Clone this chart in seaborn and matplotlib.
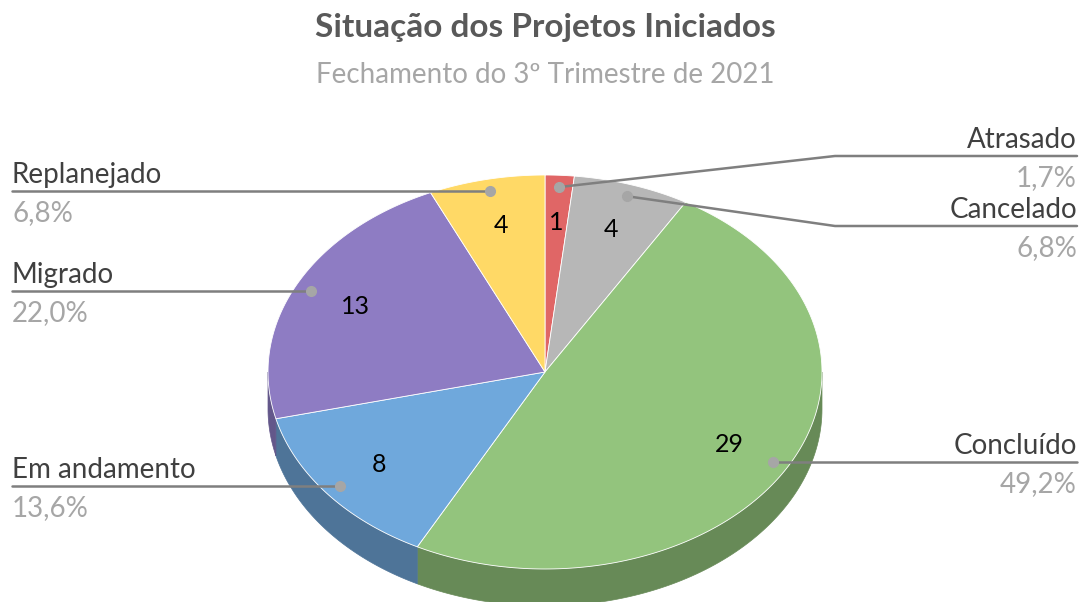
import numpy as np
import matplotlib
matplotlib.use("Agg")
import matplotlib.pyplot as plt
from matplotlib.patches import Polygon
import seaborn as sns

# Situação dos projetos iniciados - fechamento do 3º trimestre de 2021
categorias = ["Atrasado", "Cancelado", "Concluído", "Em andamento", "Migrado", "Replanejado"]
quantidades = [1, 4, 29, 8, 13, 4]
cores = ["#e06666", "#b7b7b7", "#93c47d", "#6fa8dc", "#8e7cc3", "#ffd966"]
cores_lado = ["#9e4848", "#808080", "#678a57", "#4e7498", "#63578a", "#b39848"]

titulo = "Situação dos Projetos Iniciados"
subtitulo = "Fechamento do 3º Trimestre de 2021"

sns.set_theme(style="white")
plt.rcParams["font.family"] = ["Lato", "DejaVu Sans"]

fig = plt.figure(figsize=(10.82, 6.02), dpi=100)
ax = fig.add_axes([0, 0, 1, 1])
ax.set_xlim(0, 1082)
ax.set_ylim(602, 0)
ax.axis("off")

# geometria do "pie 3D" (elipse + parede lateral)
cx, cy = 545, 372
rx, ry = 277, 197
depth = 37


def ponto(t, r=1.0):
    return cx + rx * r * np.sin(t), cy - ry * r * np.cos(t)


total = sum(quantidades)
fracs = np.array(quantidades) / total
limites = np.concatenate([[0], np.cumsum(fracs)]) * 2 * np.pi

# paredes laterais (so a parte da frente, entre 90 e 270 graus)
for i in range(len(quantidades)):
    t1 = max(limites[i], np.pi / 2)
    t2 = min(limites[i + 1], 3 * np.pi / 2)
    if t2 <= t1:
        continue
    ts = np.linspace(t1, t2, 100)
    xs, ys = ponto(ts)
    topo = np.column_stack([xs, ys])
    base = np.column_stack([xs, ys + depth])[::-1]
    ax.add_patch(Polygon(np.vstack([topo, base]), closed=True,
                         facecolor=cores_lado[i], edgecolor=cores_lado[i], lw=0.5))

# face superior
for i in range(len(quantidades)):
    ts = np.linspace(limites[i], limites[i + 1], 200)
    xs, ys = ponto(ts)
    pts = np.vstack([[cx, cy], np.column_stack([xs, ys])])
    ax.add_patch(Polygon(pts, closed=True, facecolor=cores[i],
                         edgecolor="white", lw=0.6))

# valores dentro das fatias
meio = (limites[:-1] + limites[1:]) / 2
for i, q in enumerate(quantidades):
    x, y = ponto(meio[i], 0.76)
    ax.text(x, y, str(q), ha="center", va="center", fontsize=18, color="black")

# rotulos com linhas de chamada
lado_esq = {"Replanejado", "Migrado", "Em andamento"}
y_rotulo = {"Atrasado": 156, "Cancelado": 226}
cor_linha = "#7f7f7f"
for i, nome in enumerate(categorias):
    ax0, ay0 = ponto(meio[i], 0.94)
    ax.plot(ax0, ay0, "o", color="#a6a6a6", ms=7, zorder=5)
    yl = y_rotulo.get(nome, ay0)
    pct = f"{fracs[i] * 100:.1f}%".replace(".", ",")
    if nome in lado_esq:
        ax.plot([ax0, 12], [yl, yl], color=cor_linha, lw=1.8, zorder=4)
        xt, ha = 12, "left"
    else:
        if nome in y_rotulo:
            ax.plot([ax0, 835, 1077], [ay0, yl, yl], color=cor_linha, lw=1.8, zorder=4)
        else:
            ax.plot([ax0, 1077], [yl, yl], color=cor_linha, lw=1.8, zorder=4)
        xt, ha = 1077, "right"
    ax.text(xt, yl - 8, nome, ha=ha, va="baseline", fontsize=20, color="#404040")
    ax.text(xt, yl + 30, pct, ha=ha, va="baseline", fontsize=20, color="#a6a6a6")

ax.text(545, 28, titulo, ha="center", va="center", fontsize=24,
        fontweight="bold", color="#595959")
ax.text(545, 75, subtitulo, ha="center", va="center", fontsize=20, color="#a6a6a6")

fig.savefig("out.png", dpi=100)
